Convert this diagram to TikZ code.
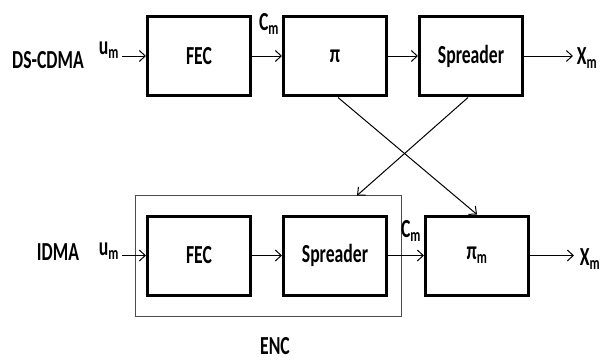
\documentclass[tikz,border=0pt]{standalone}
\usepackage{fontspec}
\setmainfont[FakeStretch=0.68]{Carlito}
\usetikzlibrary{arrows.meta,calc}
\begin{document}
\begin{tikzpicture}[x=1pt,y=-1pt,
  font=\fontsize{26}{28}\selectfont\bfseries,
  blk/.style={draw, line width=3pt, minimum width=103pt, minimum height=79pt, inner sep=0pt},
  encbox/.style={draw=black!70, line width=1pt, minimum width=266pt, minimum height=121pt, inner sep=0pt},
  arr/.style={-{Straight Barb[length=6pt,width=11pt]}, line width=1pt},
  lbl/.style={inner sep=0pt}]
\useasboundingbox (0,0) rectangle (609,361);
% top row
\node[blk] (fec1) at (199,56) {FEC};
\node[blk] (pi1) at (335,56) {π};
\node[blk] (spr1) at (471,56) {Spreader};
% bottom row
\node[encbox] (enc) at (268,255.5) {};
\node[blk] (fec2) at (199,255.5) {FEC};
\node[blk] (spr2) at (335,255.5) {Spreader};
\node[blk] (pim) at (477,255.5) {π\textsubscript{m}};
% free ends
\coordinate (u1) at (122,56);
\coordinate (x1) at (573,56);
\coordinate (u2) at (122,255.5);
\coordinate (x2) at (574,255.5);
\coordinate (e1) at (357,195.5);
\coordinate (p1s) at (338,97.5);
\coordinate (s1s) at (468,97.5);
% labels
\node[lbl] (ds) at (48,60) {DS-CDMA};
\node[lbl] (um1) at (109,50) {u\textsubscript{m}};
\node[lbl] (cm1) at (269,24) {C\textsubscript{m}};
\node[lbl] (xm1) at (587,58) {X\textsubscript{m}};
\node[lbl] (idma) at (58,252) {IDMA};
\node[lbl] (um2) at (109,251) {u\textsubscript{m}};
\node[lbl] (cm2) at (411,231) {C\textsubscript{m}};
\node[lbl] (xm2) at (590,259) {X\textsubscript{m}};
\node[lbl] (enclbl) at (275,346) {ENC};
% connectors
\draw[arr] (u1) -- (fec1.west);
\draw[arr] (fec1.east) -- (pi1.west);
\draw[arr] (pi1.east) -- (spr1.west);
\draw[arr] (spr1.east) -- (x1);
\draw[arr] (u2) -- (fec2.west);
\draw[arr] (fec2.east) -- (spr2.west);
\draw[arr] (spr2.east) -- (pim.west);
\draw[arr] (pim.east) -- (x2);
\draw[arr] (p1s) -- (pim.north);
\draw[arr] (s1s) -- (e1);
\end{tikzpicture}
\end{document}
